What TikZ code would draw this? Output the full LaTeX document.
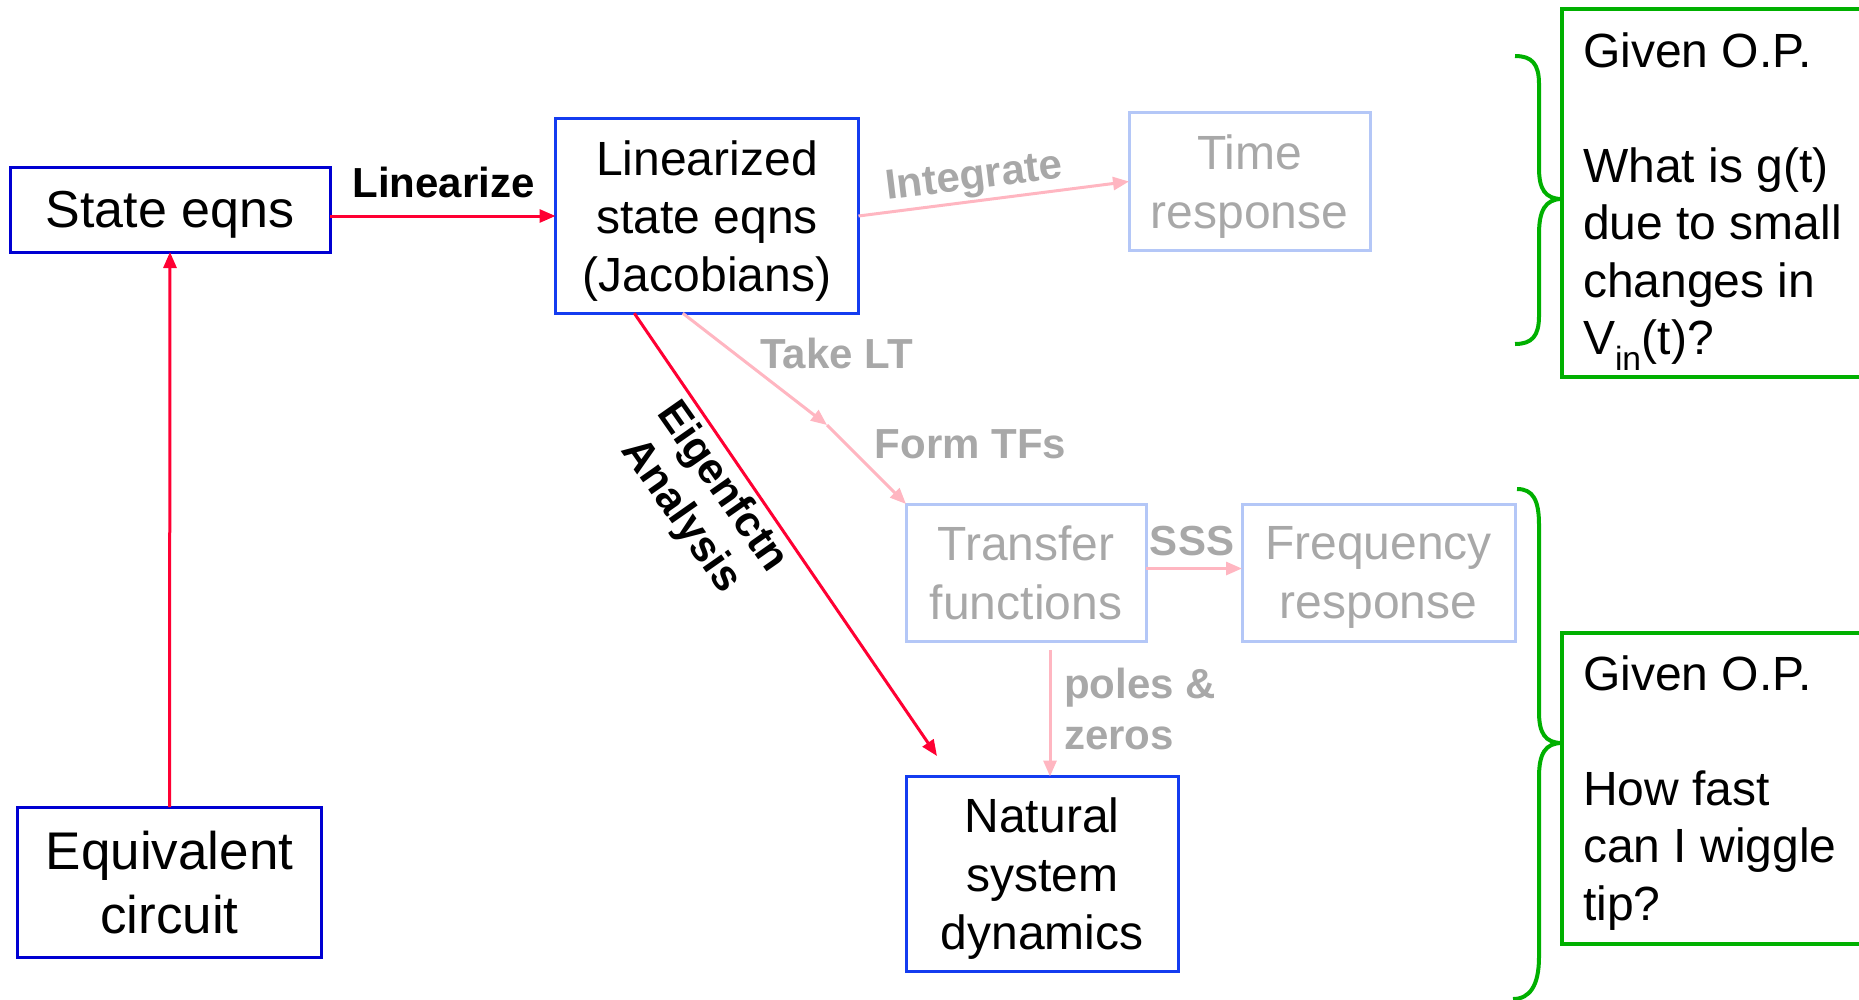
\documentclass[tikz,border=0pt]{standalone}
\usepackage{fontspec}
\setmainfont{Liberation Sans}
\usetikzlibrary{arrows.meta,calc}

\definecolor{arrowred}{RGB}{255,0,51}
\definecolor{arrowpink}{RGB}{255,182,193}
\definecolor{fadegray}{RGB}{168,168,168}
\definecolor{fadeblue}{RGB}{180,199,247}
\definecolor{boxblue}{RGB}{0,0,210}
\definecolor{boxblueb}{RGB}{20,60,240}
\definecolor{notegreen}{RGB}{0,176,0}

\tikzset{
  every node/.style={inner sep=0pt, outer sep=0pt},
  tip/.style={-{Triangle[length=16pt,width=13pt]}},
  % block text is centred on its line boxes, ignoring descenders
  blocktext/.style={align=center, text depth=0pt},
  bluebox/.style={draw=boxblue, line width=3pt, blocktext},
  blueboxb/.style={draw=boxblueb, line width=3pt, blocktext},
  fadebox/.style={draw=fadeblue, line width=3pt, blocktext, text=fadegray,
    font=\fontsize{48}{59}\selectfont},
  notebox/.style={draw=notegreen, line width=4pt},
  notetext/.style={align=left, font=\fontsize{48}{57.5}\selectfont},
  brace/.style={draw=notegreen, line width=4pt},
  redarrow/.style={tip, draw=arrowred, fill=arrowred, line width=3pt},
  pinkarrow/.style={tip, draw=arrowpink, fill=arrowpink, line width=3pt},
  lbl/.style={text=fadegray, font=\bfseries\fontsize{42}{51}\selectfont},
}

\begin{document}
\begin{tikzpicture}[x=1pt,y=-1pt]
\useasboundingbox (0,0) rectangle (1859,999);
\clip (0,0) rectangle (1859,999);

% main blocks
\node[bluebox, minimum width=320pt, minimum height=85pt,
      font=\fontsize{52}{62}\selectfont] (state) at (170,209.5) {State eqns};
\node[blueboxb, minimum width=303pt, minimum height=194.5pt,
      font=\fontsize{48}{58}\selectfont] (lin) at (707,216)
      {Linearized\\state eqns\\(Jacobians)};
\node[bluebox, minimum width=304pt, minimum height=150pt,
      font=\fontsize{53}{64}\selectfont] (equiv) at (169.5,882)
      {Equivalent\\circuit};
\node[blueboxb, minimum width=272pt, minimum height=195pt,
      font=\fontsize{48}{58.5}\selectfont] (nat) at (1042,874)
      {Natural\\system\\dynamics};

% faded blocks
\node[fadebox, minimum width=241pt, minimum height=138pt] (time) at (1249.5,181.5)
      {Time\\response};
\node[fadebox, minimum width=240pt, minimum height=137pt] (tf) at (1026,572.5)
      {Transfer\\functions};
\node[fadebox, minimum width=273pt, minimum height=137pt] (freq) at (1378.5,572.5)
      {Frequency\\response};

% question boxes on the right
\node[notebox, anchor=north west, minimum width=400pt, minimum height=368pt] (q1) at (1562,9) {};
\node[notetext, anchor=north west] (q1text) at (1583,32.5)
  {Given O.P.\\[57.5pt]What is g(t)\\due to small\\changes in\\V\textsubscript{in}(t)?};
\node[notebox, anchor=north west, minimum width=400pt, minimum height=311pt] (q2) at (1562,633) {};
\node[notetext, anchor=north west] (q2text) at (1583,655.5)
  {Given O.P.\\[57.5pt]How fast\\can I wiggle\\tip?};

% braces
\draw[brace] (1515,56) .. controls (1532,56) and (1539,64) .. (1539,84)
  -- (1539,168) .. controls (1539,189) and (1545,199) .. (1562,199)
  .. controls (1545,199) and (1539,211) .. (1539,234)
  -- (1539,316) .. controls (1539,336) and (1532,344) .. (1515,344);
\draw[brace] (1517,489) .. controls (1533,489) and (1539,500) .. (1539,525)
  -- (1539,712) .. controls (1539,733) and (1545,743) .. (1562,743)
  .. controls (1545,743) and (1539,754) .. (1539,777)
  -- (1539,957) .. controls (1539,985) and (1530,999) .. (1513,999);

% connector end points
\coordinate (eigStart) at ($(lin.south west)!0.26!(lin.south east)$);
\coordinate (eigEnd) at (937,756);
\coordinate (ltStart) at ($(lin.south west)!0.42!(lin.south east)$);
\coordinate (ltMid) at (827,425);
\coordinate (pzTop) at (1050,650);
\coordinate (sssStart) at ($(tf.east)+(0,-4)$);

% connectors
\draw[redarrow] (equiv.north) -- (state.south);
\draw[redarrow] (state.east |- lin.west) -- (lin.west);
\draw[redarrow] (eigStart) -- (eigEnd);
\draw[pinkarrow] (lin.east) -- (time.west);
\draw[pinkarrow] (ltStart) -- (ltMid);
\draw[pinkarrow] (ltMid) -- (tf.north west);
\draw[pinkarrow] (sssStart) -- (sssStart -| freq.west);
\draw[pinkarrow] (pzTop) -- (pzTop |- nat.north);

% connector labels
\node[font=\bfseries\fontsize{42}{51}\selectfont] (linlbl) at (443.5,182) {Linearize};
\node[lbl, rotate=7] (intlbl) at (974,179) {Integrate};
\node[lbl] (ltlbl) at (836.5,353) {Take LT};
\node[lbl] (tflbl) at (970.5,444) {Form TFs};
\node[lbl] (ssslbl) at (1192,541) {SSS};
\node[lbl, align=left, anchor=north west] (pzlbl) at (1064,668) {poles \&\\zeros};
\node[align=center, rotate=-55, font=\bfseries\fontsize{43}{50}\selectfont] (eiglbl)
  at (701,502) {Eigenfctn\\Analysis};
\end{tikzpicture}
\end{document}
